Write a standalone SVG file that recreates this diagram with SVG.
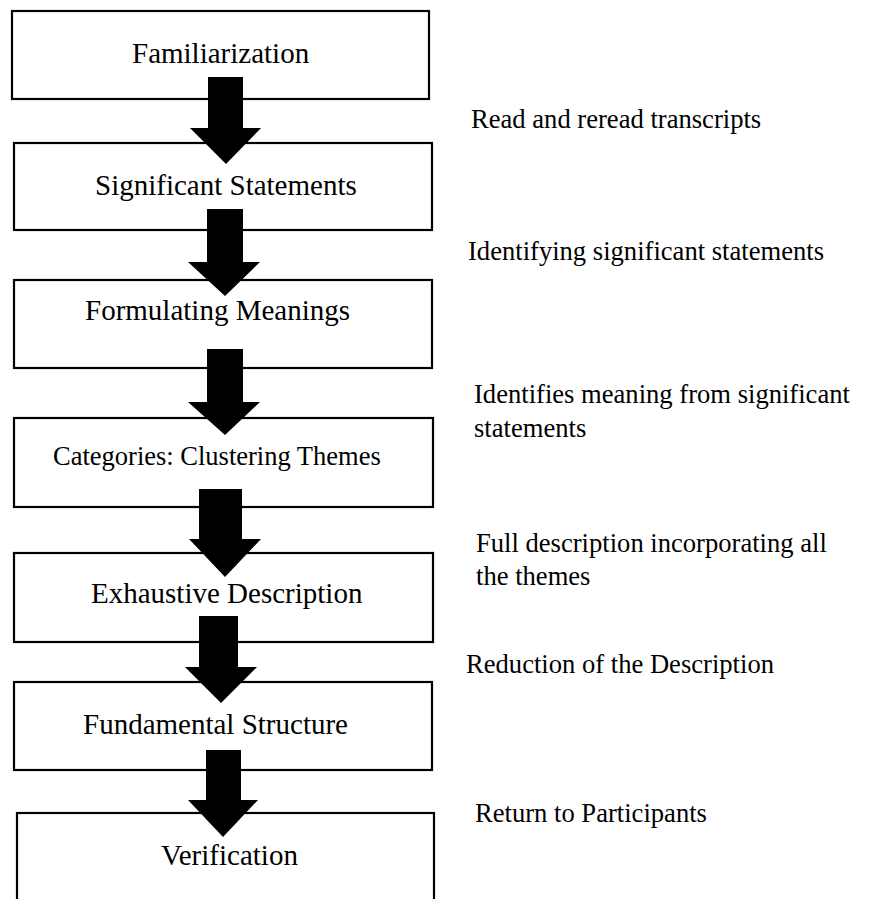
<svg xmlns="http://www.w3.org/2000/svg" width="869" height="899" viewBox="0 0 869 899">
<style>
.box{fill:#fff;stroke:#000;stroke-width:2.2}
.lbl{font-family:"Liberation Serif",serif;font-size:29px;fill:#000}
.sm{font-size:26.5px}
.note{font-family:"Liberation Serif",serif;font-size:26.6px;fill:#000}
.arr{fill:#000}
</style>
<rect width="869" height="899" fill="#fff"/>
<g id="n1"><rect class="box" x="12" y="11" width="417" height="88"/><text class="lbl" x="132" y="63">Familiarization</text></g>
<g id="n2"><rect class="box" x="14" y="143" width="418" height="87"/><text class="lbl" x="95" y="195">Significant Statements</text></g>
<g id="n3"><rect class="box" x="14" y="280" width="418" height="88"/><text class="lbl" x="85" y="320">Formulating Meanings</text></g>
<g id="n4"><rect class="box" x="14" y="418" width="419" height="89"/><text class="lbl sm" x="53" y="465">Categories: Clustering Themes</text></g>
<g id="n5"><rect class="box" x="14" y="553" width="419" height="89"/><text class="lbl" x="91" y="603">Exhaustive Description</text></g>
<g id="n6"><rect class="box" x="14" y="682" width="418" height="88"/><text class="lbl" x="83" y="734">Fundamental Structure</text></g>
<g id="n7"><rect class="box" x="17" y="813" width="417" height="120"/><text class="lbl" x="161" y="865">Verification</text></g>
<g id="connectors">
<polygon class="arr" points="208,77 243,77 243,128 261,128 226,164 190,128 208,128"/>
<polygon class="arr" points="207,209 243,209 243,262 260,262 225,296 188,262 207,262"/>
<polygon class="arr" points="207,349 243,349 243,402 260,402 225,435 188,402 207,402"/>
<polygon class="arr" points="199,489 242,489 242,539 261,539 225,577 189,539 199,539"/>
<polygon class="arr" points="199,616 238,616 238,667 257,667 221,703 185,667 199,667"/>
<polygon class="arr" points="206,750 241,750 241,800 258,800 223,837 188,800 206,800"/>
</g>
<g id="notes">
<text class="note" x="471" y="128">Read and reread transcripts</text>
<text class="note" x="468" y="260">Identifying significant statements</text>
<text class="note" x="474" y="403">Identifies meaning from significant</text>
<text class="note" x="474" y="437">statements</text>
<text class="note" x="476" y="552">Full description incorporating all</text>
<text class="note" x="476" y="585">the themes</text>
<text class="note" x="466" y="673">Reduction of the Description</text>
<text class="note" x="475" y="822">Return to Participants</text>
</g>
</svg>
